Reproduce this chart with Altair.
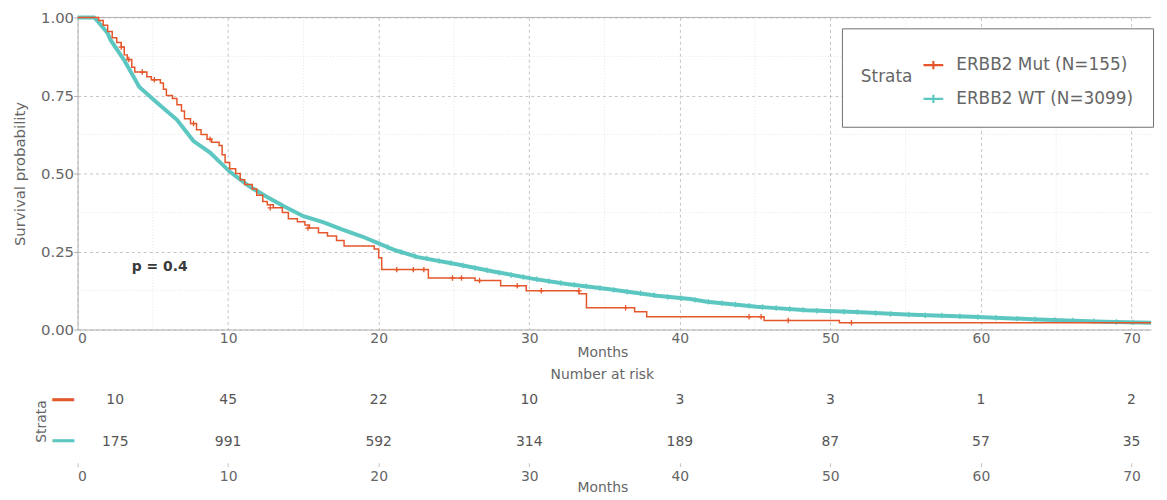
import altair as alt
import pandas as pd

ORANGE = "#E5572B"
TEAL = "#5CC7C1"
MUT = "ERBB2 Mut (N=155)"
WT = "ERBB2 WT (N=3099)"
TXT = "#666666"
FONT = "DejaVu Sans"

# Kaplan-Meier curve, ERBB2 Mut (step function)
mut_t = [0, 1.4, 1.7, 2.0, 2.3, 2.6, 2.9, 3.1, 3.3, 3.6, 3.8, 4.6, 4.9, 5.5, 5.7, 5.9,
         6.3, 6.6, 6.9, 7.1, 7.5, 7.9, 8.2, 8.6, 8.9, 9.4, 9.6, 9.8, 10.1, 10.5, 10.8,
         11.1, 11.6, 11.9, 12.3, 12.6, 13.0, 13.6, 14.0, 14.6, 15.1, 15.4, 16.0, 16.6,
         17.2, 17.7, 19.7, 20.0, 20.2, 23.3, 26.4, 28.1, 29.8, 33.3, 33.8, 37.0, 37.8,
         45.6, 50.6, 71.3]
mut_s = [1.0, 0.99, 0.975, 0.955, 0.935, 0.92, 0.905, 0.88, 0.865, 0.84, 0.825, 0.81,
         0.80, 0.79, 0.77, 0.75, 0.74, 0.72, 0.70, 0.675, 0.66, 0.64, 0.625, 0.61, 0.60,
         0.59, 0.56, 0.535, 0.515, 0.50, 0.48, 0.465, 0.45, 0.43, 0.41, 0.40, 0.39, 0.375,
         0.355, 0.345, 0.335, 0.325, 0.31, 0.30, 0.285, 0.268, 0.258, 0.23, 0.192, 0.165,
         0.157, 0.14, 0.124, 0.115, 0.07, 0.057, 0.041, 0.029, 0.022, 0.022]

# Kaplan-Meier curve, ERBB2 WT
wt_t = [0, 1.1, 1.3, 2.0, 2.2, 3.1, 4.1, 5.3, 6.6, 7.7, 8.8, 10.1, 11.4, 12.5, 13.7,
        15.0, 16.3, 17.6, 18.9, 19.8, 21.1, 22.6, 25.1, 27.7, 30.2, 32.5, 35.2, 38.5,
        40.7, 41.8, 45.1, 48.4, 51.7, 55.0, 59.4, 63.8, 68.2, 71.3]
wt_s = [1.0, 1.0, 0.99, 0.949, 0.927, 0.863, 0.777, 0.726, 0.672, 0.604, 0.567, 0.506,
        0.459, 0.427, 0.395, 0.363, 0.344, 0.32, 0.298, 0.28, 0.254, 0.232, 0.21, 0.185,
        0.163, 0.146, 0.13, 0.108, 0.098, 0.089, 0.073, 0.062, 0.056, 0.048, 0.041,
        0.032, 0.025, 0.022]

# censoring marks
mut_cens_t = [2.9, 3.4, 4.3, 5.1, 7.7, 8.8, 12.8, 15.3, 21.2, 22.3, 23.0, 24.9, 25.5,
              26.7, 29.2, 30.8, 33.3, 36.4, 44.6, 45.4, 47.2, 51.4]
mut_cens_s = [0.905, 0.865, 0.825, 0.80, 0.66, 0.61, 0.39, 0.325, 0.192, 0.192, 0.192,
              0.165, 0.165, 0.157, 0.14, 0.124, 0.124, 0.07, 0.041, 0.041, 0.029, 0.022]
wt_cens_t = [20.6, 21.5, 22.4, 23.2, 24.0, 24.8, 25.6, 26.4, 27.2, 28.0, 28.8, 29.6,
             30.5, 31.3, 32.1, 33.0, 33.8, 34.7, 35.6, 36.5, 37.4, 38.3, 39.2, 40.1,
             41.0, 41.9, 42.8, 43.7, 44.6, 45.5, 46.4, 47.3, 48.2, 49.1, 50.0, 50.9,
             51.8, 53.0, 54.0, 55.2, 56.3, 57.4, 58.6, 59.8, 61.0, 62.4, 63.6, 64.9,
             66.1, 67.5, 69.0, 70.1]
wt_cens_s = [0.264, 0.248, 0.235, 0.228, 0.22, 0.213, 0.205, 0.197, 0.19, 0.182, 0.175,
             0.168, 0.161, 0.155, 0.149, 0.143, 0.139, 0.133, 0.127, 0.121, 0.116, 0.11,
             0.104, 0.1, 0.095, 0.089, 0.084, 0.08, 0.076, 0.072, 0.069, 0.066, 0.063,
             0.06, 0.058, 0.057, 0.056, 0.053, 0.05, 0.048, 0.046, 0.045, 0.043, 0.04,
             0.038, 0.035, 0.033, 0.031, 0.029, 0.027, 0.024, 0.023]

# number at risk
risk_times = [2.5, 10, 20, 30, 40, 50, 60, 70]
risk_mut = [10, 45, 22, 10, 3, 3, 1, 2]
risk_wt = [175, 991, 592, 314, 189, 87, 57, 35]

x_ticks = [0, 10, 20, 30, 40, 50, 60, 70]
y_ticks = [0, 0.25, 0.5, 0.75, 1.0]
minor_x = [5, 15, 25, 35, 45, 55, 65]
minor_y = [0.125, 0.375, 0.625, 0.875]
p_label = ["p = 0.4"]
p_pos = [(3.6, 0.2)]

X_MAX = 71.3
W = 1080

curves = pd.DataFrame(
    {"strata": [MUT] * len(mut_t) + [WT] * len(wt_t),
     "t": mut_t + wt_t, "s": mut_s + wt_s})
cens = pd.DataFrame(
    {"strata": [MUT] * len(mut_cens_t) + [WT] * len(wt_cens_t),
     "t": mut_cens_t + wt_cens_t, "s": mut_cens_s + wt_cens_s})

xs = alt.Scale(domain=[0, X_MAX], nice=False, zero=False)
ys = alt.Scale(domain=[0, 1], nice=False)
cs = alt.Scale(domain=[MUT, WT], range=[ORANGE, TEAL])

x_axis = alt.Axis(values=x_ticks, format="d", title="Months", grid=True, gridDash=[3, 3],
                  gridColor="#c4c4c4", ticks=False, labelPadding=2, domainColor="#b0b0b0",
                  labelFontSize=14, labelColor=TXT, titleFontSize=14, titleColor=TXT,
                  titleFontWeight="normal", titlePadding=0, titleX=528)
y_axis = alt.Axis(values=y_ticks, format=".2f", title="Survival probability", grid=True,
                  gridDash=[3, 3], gridColor="#c4c4c4", tickSize=4, tickColor="#b0b0b0",
                  labelPadding=0, domainColor="#b0b0b0", labelFontSize=15, labelColor=TXT,
                  titleFontSize=15, titleColor=TXT, titleFontWeight="normal",
                  titlePadding=13)

legend = alt.Legend(title="Strata", orient="none", legendX=769, legendY=11,
                    titleOrient="left", direction="vertical", strokeColor="#707070",
                    fillColor="white", padding=19, titleFontSize=17, labelFontSize=17,
                    titleColor=TXT, labelColor=TXT, titleFontWeight="normal",
                    titlePadding=3, symbolType="M-0.6,0L0.6,0M0,-0.25L0,0.25",
                    symbolStrokeWidth=2.2, symbolSize=1100, rowPadding=7, labelOffset=5,
                    labelLimit=400, titleBaseline="middle")

minor_v = alt.Chart(pd.DataFrame({"t": minor_x})).mark_rule(
    color="#e6e6e6", strokeWidth=1, strokeDash=[1, 2]).encode(x=alt.X("t:Q", scale=xs))
minor_h = alt.Chart(pd.DataFrame({"s": minor_y})).mark_rule(
    color="#e6e6e6", strokeWidth=1, strokeDash=[1, 2]).encode(y=alt.Y("s:Q", scale=ys))
top_border = alt.Chart(pd.DataFrame({"s": [1.0]})).mark_rule(
    color="#b0b0b0", strokeWidth=1).encode(y=alt.Y("s:Q", scale=ys))

wt_line = alt.Chart(curves[curves.strata == WT]).mark_line(strokeWidth=4).encode(
    x=alt.X("t:Q", scale=xs, axis=x_axis),
    y=alt.Y("s:Q", scale=ys, axis=y_axis),
    color=alt.Color("strata:N", scale=cs, legend=legend))
mut_line = alt.Chart(curves[curves.strata == MUT]).mark_line(
    strokeWidth=1.5, interpolate="step-after").encode(
    x=alt.X("t:Q", scale=xs), y=alt.Y("s:Q", scale=ys),
    color=alt.Color("strata:N", scale=cs, legend=legend))
cens_pts = alt.Chart(cens).mark_point(
    shape="M-1,0L1,0M0,-1L0,1", size=30, filled=False, strokeWidth=1.3, opacity=1).encode(
    x=alt.X("t:Q", scale=xs), y=alt.Y("s:Q", scale=ys),
    color=alt.Color("strata:N", scale=cs, legend=legend))
ptext = alt.Chart(pd.DataFrame({"t": [p[0] for p in p_pos], "s": [p[1] for p in p_pos],
                                "label": p_label})).mark_text(
    align="left", baseline="middle", fontSize=14, fontWeight="bold", color="#3a3a3a",
    font=FONT).encode(x=alt.X("t:Q", scale=xs), y=alt.Y("s:Q", scale=ys), text="label:N")

top = alt.layer(minor_v, minor_h, top_border, wt_line, cens_pts, mut_line, ptext).properties(
    width=W, height=314)

risk = pd.DataFrame({"strata": [MUT] * len(risk_times) + [WT] * len(risk_times),
                     "t": risk_times + risk_times, "n": risk_mut + risk_wt})

bottom = alt.Chart(risk).mark_text(fontSize=14, color="#555", font=FONT).encode(
    x=alt.X("t:Q", scale=xs,
            axis=alt.Axis(values=x_ticks, format="d", title="Months", grid=False,
                          domain=False, ticks=True, tickSize=4, tickColor="#c4c4c4",
                          labelPadding=3, labelFontSize=14, labelColor=TXT,
                          titleFontSize=14, titleColor=TXT, titleFontWeight="normal",
                          titlePadding=-3, titleX=528)),
    y=alt.Y("strata:N", sort=[MUT, WT], scale=alt.Scale(paddingInner=0, paddingOuter=0),
            axis=alt.Axis(title="Strata", labelExpr="'\u2501\u2501'", labelFontSize=18,
                          labelColor={"condition": {"test": f"datum.value == '{MUT}'",
                                                    "value": ORANGE}, "value": TEAL},
                          ticks=False, domain=False, grid=False, labelPadding=4,
                          titleFontSize=14, titleColor=TXT, titleFontWeight="normal",
                          titleX=-36, titleY=42, titleAngle=-90, titleAlign="center",
                          titleBaseline="middle")),
    text="n:Q").properties(
    width=W, height=84,
    title=alt.TitleParams("Number at risk", fontSize=14, color=TXT, fontWeight="normal",
                          anchor="middle", dx=-12, offset=-3, font=FONT))

chart = alt.vconcat(top, bottom, spacing=9).properties(
    padding={"left": 4, "top": 0, "right": 0, "bottom": 0}, background="white"
).configure(font=FONT).configure_view(stroke="transparent", strokeWidth=0)

chart.save("out.html", embed_options={"renderer": "svg", "actions": False})
